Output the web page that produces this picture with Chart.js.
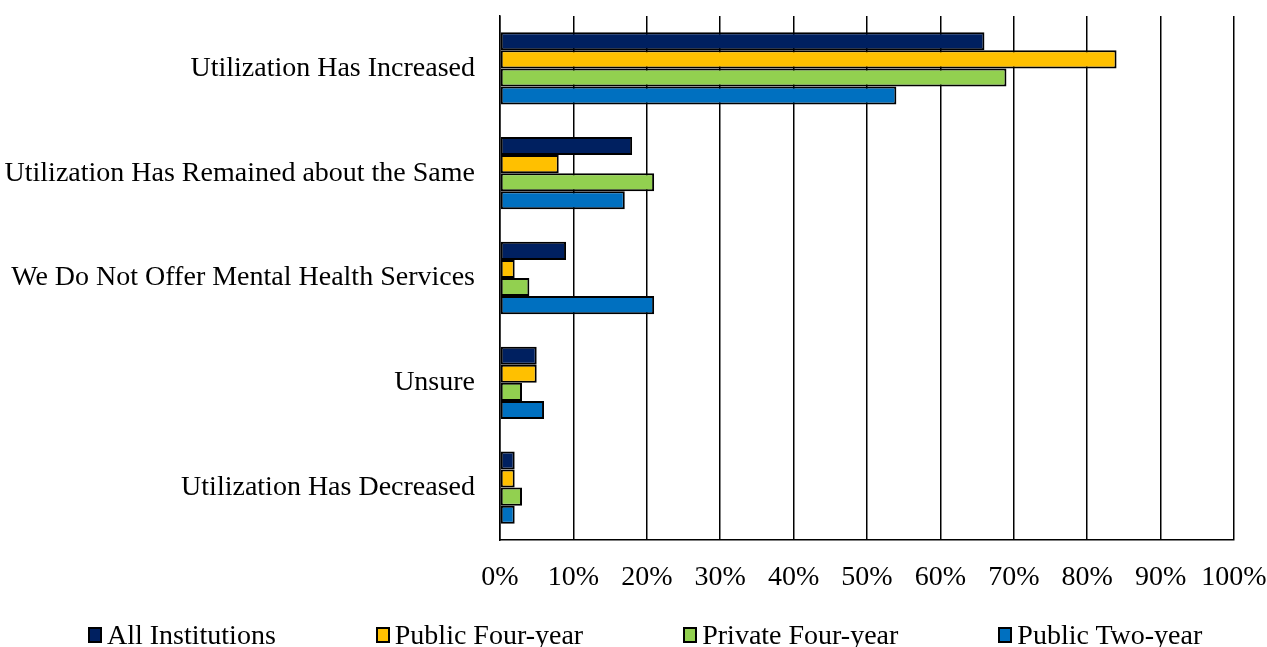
<!DOCTYPE html>
<html>
<head>
<meta charset="utf-8">
<script src="https://cdn.jsdelivr.net/npm/chart.js@4"></script>
<style>
    body { margin: 0; background: #fff; }
    #wrap { position: relative; width: 1267px; height: 647px; overflow: hidden; }
    #legend {
        position: absolute; left: 88px; top: 618px;
        display: flex; align-items: center; white-space: nowrap;
        font-family: "Liberation Serif", "Times New Roman", serif; font-size: 28px; color: #000;
    }
    .lg-item { display: flex; align-items: center; flex-shrink: 0; margin-right: 100px; line-height: 34px; }
    .lg-box { width: 10px; height: 12px; border: 2px solid #000; margin-right: 5px; flex-shrink: 0; }
</style>
</head>
<body>
<div id="wrap">
    <canvas id="chart" width="1267" height="647"></canvas>
    <div id="legend"></div>
</div>
<script>
// ===================== DATA =====================
const categories = [
    'Utilization Has Increased',
    'Utilization Has Remained about the Same',
    'We Do Not Offer Mental Health Services',
    'Unsure',
    'Utilization Has Decreased'
];
const allInstitutions = [66, 18, 9, 5, 2];
const publicFourYear = [84, 8, 2, 5, 2];
const privateFourYear = [69, 21, 4, 3, 3];
const publicTwoYear = [54, 17, 21, 6, 2];

const seriesNames = ['All Institutions', 'Public Four-year', 'Private Four-year', 'Public Two-year'];
const seriesColors = ['#002060', '#FFC000', '#92D050', '#0070C0'];
const seriesValues = [allInstitutions, publicFourYear, privateFourYear, publicTwoYear];

const FONT = '"Liberation Serif", "Times New Roman", serif';

const datasets = seriesNames.map((name, i) => ({
    label: name,
    data: seriesValues[i],
    backgroundColor: seriesColors[i],
    borderColor: '#000',
    borderWidth: 2,
    borderSkipped: false,
    categoryPercentage: 0.69,
    barPercentage: 1.0
}));

new Chart(document.getElementById('chart'), {
    type: 'bar',
    data: { labels: categories, datasets },
    options: {
        indexAxis: 'y',
        responsive: false,
        animation: false,
        layout: { padding: { top: 16, right: 33, left: 0, bottom: 0 } },
        plugins: { legend: { display: false }, tooltip: { enabled: false } },
        scales: {
            x: {
                min: 0, max: 100,
                ticks: {
                    stepSize: 10,
                    padding: 21,
                    maxRotation: 0,
                    autoSkip: false,
                    color: '#000',
                    font: { family: FONT, size: 28 },
                    callback: v => v + '%'
                },
                grid: { color: '#000', lineWidth: 1.5, drawTicks: false },
                border: { display: true, color: '#000', width: 1.5 },
                afterFit: s => { s.height = 107; s.paddingLeft = 0; s.paddingRight = 0; }
            },
            y: {
                ticks: {
                    padding: 25,
                    color: '#000',
                    font: { family: FONT, size: 28 }
                },
                grid: { display: false, drawTicks: false },
                border: { display: true, color: '#000', width: 1.5 },
                afterFit: s => { s.width = 500; s.paddingTop = 0; s.paddingBottom = 0; }
            }
        }
    }
});

// legend
const lg = document.getElementById('legend');
seriesNames.forEach((name, i) => {
    const item = document.createElement('div');
    item.className = 'lg-item';
    item.innerHTML = `<span class="lg-box" style="background:${seriesColors[i]}"></span><span>${name}</span>`;
    lg.appendChild(item);
});
</script>
</body>
</html>
